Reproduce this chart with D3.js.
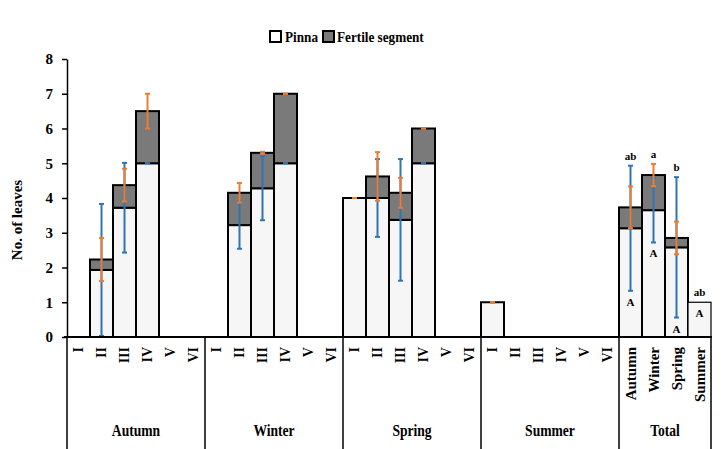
<!DOCTYPE html>
<html>
<head>
<meta charset="utf-8">
<script src="https://cdn.jsdelivr.net/npm/d3@7"></script>
<style>
  html, body { margin: 0; padding: 0; background: #fff; }
  svg { display: block; }
  text { font-family: "Liberation Serif", "Times New Roman", serif; font-weight: bold; fill: #000; }
</style>
</head>
<body>
<div id="chart"></div>
<script>
// ---------------- DATA ----------------
const groups = ["Autumn", "Winter", "Spring", "Summer", "Total"];
const seasonStages = ["I", "II", "III", "IV", "V", "VI"];
const totalStages = ["Autumn", "Winter", "Spring", "Summer"];

// 28 categories: 4 seasons x 6 stages + 4 totals
const pinna   = [0, 1.93, 3.72, 5.0, 0, 0,
                 0, 3.22, 4.28, 5.0, 0, 0,
                 4.0, 4.0, 3.37, 5.0, 0, 0,
                 1.0, 0, 0, 0, 0, 0,
                 3.13, 3.65, 2.58, 1.0];
const fertile = [0, 0.30, 0.65, 1.5, 0, 0,
                 0, 0.93, 1.02, 2.0, 0, 0,
                 0, 0.62, 0.78, 1.0, 0, 0,
                 0, 0, 0, 0, 0, 0,
                 0.60, 1.01, 0.27, 0];
const pinnaSD = [null, 1.9, 1.29, 0, null, null,
                 null, 0.68, 0.92, 0, null, null,
                 0, 1.12, 1.75, 0, null, null,
                 0, null, null, null, null, null,
                 1.8, 0.93, 2.02, null];
const totalSD = [null, 0.62, 0.47, 0.5, null, null,
                 null, 0.28, 0.03, 0, null, null,
                 0, 0.70, 0.43, 0, null, null,
                 0, null, null, null, null, null,
                 0.60, 0.32, 0.47, null];
const totalLower = ["ab", "a", "b", "ab"];
const totalUpper = ["A", "A", "A", "A"];
const yTicks = [0, 1, 2, 3, 4, 5, 6, 7, 8];
const legendLabels = ["Pinna", "Fertile segment"];

// ---------------- BUILD ----------------
const W = 725, H = 449;
const cats = [];
groups.forEach(g => {
  const st = g === "Total" ? totalStages : seasonStages;
  st.forEach(s => cats.push({ group: g, stage: s, key: g + "|" + s }));
});
cats.forEach((c, i) => {
  c.pinna = pinna[i]; c.fertile = fertile[i];
  c.total = pinna[i] + fertile[i];
  c.pSD = pinnaSD[i]; c.tSD = totalSD[i];
});

const svg = d3.select("#chart").append("svg").attr("width", W).attr("height", H);

const x = d3.scaleBand().domain(cats.map(c => c.key)).range([67, 711]).padding(0);
const y = d3.scaleLinear().domain([0, 8]).range([337, 59]);

const PINNA_FILL = "#f6f6f6", FERT_FILL = "#7a7a7a";
const BLUE = "#2e75b6", ORANGE = "#ed7d31";

// Y axis
const yAxis = d3.axisLeft(y).tickValues(yTicks).tickFormat(d3.format("d")).tickSize(5).tickSizeOuter(0).tickPadding(9);
const gy = svg.append("g").attr("transform", "translate(67,0)").call(yAxis);
gy.select(".domain").attr("stroke", "#000").attr("stroke-width", 1.5);
gy.selectAll(".tick line").attr("stroke", "#000").attr("stroke-width", 1.5);
gy.selectAll(".tick text").style("font-size", "15px").style("font-family", "'Liberation Serif', serif").style("font-weight", "bold");

svg.append("text")
  .attr("transform", `translate(22,${(y(0) + y(8)) / 2 + 22}) rotate(-90)`)
  .attr("text-anchor", "middle")
  .style("font-size", "15px")
  .text("No. of leaves");

// Bars
const bars = svg.append("g");
const barData = cats.filter(c => c.pinna > 0);
bars.selectAll("rect.p").data(barData).join("rect")
  .attr("class", "p")
  .attr("x", d => x(d.key)).attr("width", x.bandwidth())
  .attr("y", d => y(d.pinna)).attr("height", d => y(0) - y(d.pinna))
  .attr("fill", PINNA_FILL).attr("stroke", "#000")
  .attr("stroke-width", d => (d.group === "Total" && d.stage === "Summer") ? 1.2 : 2);
bars.selectAll("rect.f").data(cats.filter(c => c.fertile > 0)).join("rect")
  .attr("class", "f")
  .attr("x", d => x(d.key)).attr("width", x.bandwidth())
  .attr("y", d => y(d.total)).attr("height", d => y(d.pinna) - y(d.total))
  .attr("fill", FERT_FILL).attr("stroke", "#000").attr("stroke-width", 2);

// Error bars
function errBars(data, center, sd, color) {
  const g = svg.append("g").attr("stroke", color).attr("stroke-width", 2);
  const cx = d => x(d.key) + x.bandwidth() / 2;
  data.forEach(d => {
    const c = center(d), s = sd(d);
    const lo = Math.max(0, c - s), hi = c + s;
    g.append("line").attr("x1", cx(d)).attr("x2", cx(d)).attr("y1", y(hi)).attr("y2", y(lo));
    g.append("line").attr("x1", cx(d) - 2.5).attr("x2", cx(d) + 2.5).attr("y1", y(hi)).attr("y2", y(hi));
    g.append("line").attr("x1", cx(d) - 2.5).attr("x2", cx(d) + 2.5).attr("y1", y(lo)).attr("y2", y(lo));
  });
}
errBars(cats.filter(c => c.pSD !== null), d => d.pinna, d => d.pSD, BLUE);
errBars(cats.filter(c => c.tSD !== null), d => d.total, d => d.tSD, ORANGE);

// Significance letters on Total bars
const totals = cats.filter(c => c.group === "Total");
totals.forEach((d, i) => {
  const cx = x(d.key) + x.bandwidth() / 2;
  const top = Math.max(d.total, d.pSD !== null ? d.pinna + d.pSD : 0, d.tSD !== null ? d.total + d.tSD : 0);
  const bottom = d.pSD !== null ? d.pinna - d.pSD : d.pinna;
  svg.append("text").attr("x", cx).attr("y", y(top) - 6).attr("text-anchor", "middle")
    .style("font-size", "11px").text(totalLower[i]);
  svg.append("text").attr("x", cx).attr("y", y(bottom) + 15).attr("text-anchor", "middle")
    .style("font-size", "11px").text(totalUpper[i]);
});

// X axis table
const axisG = svg.append("g");
axisG.append("line").attr("x1", 64).attr("x2", 712).attr("y1", y(0)).attr("y2", y(0))
  .attr("stroke", "#000").attr("stroke-width", 2);
const bounds = [];
groups.forEach(g => {
  const ks = cats.filter(c => c.group === g).map(c => c.key);
  const x0 = x(ks[0]), x1 = x(ks[ks.length - 1]) + x.bandwidth();
  bounds.push({ g, x0, x1 });
});
const sepXs = [bounds[0].x0].concat(bounds.map(b => b.x1));
axisG.selectAll("line.sep").data(sepXs).join("line")
  .attr("class", "sep")
  .attr("x1", d => d).attr("x2", d => d).attr("y1", y(0)).attr("y2", H)
  .attr("stroke", "#000").attr("stroke-width", 1.5);

// stage labels (rotated)
axisG.selectAll("text.stage").data(cats).join("text")
  .attr("class", "stage")
  .attr("transform", d => `translate(${x(d.key) + x.bandwidth() / 2},347) rotate(-90)`)
  .attr("text-anchor", "end")
  .attr("dy", "0.35em")
  .style("font-size", d => d.group === "Total" ? "15px" : "14px")
  .text(d => d.stage);

// group labels
axisG.selectAll("text.grp").data(bounds).join("text")
  .attr("class", "grp")
  .attr("transform", d => `translate(${(d.x0 + d.x1) / 2},436) scale(0.85,1)`)
  .attr("text-anchor", "middle")
  .style("font-size", "16px")
  .text(d => d.g);

// Legend
const leg = svg.append("g");
const legItems = [
  { label: legendLabels[0], fill: "#ffffff", bx: 270, tx: 285 },
  { label: legendLabels[1], fill: FERT_FILL, bx: 323, tx: 337 }
];
legItems.forEach(it => {
  leg.append("rect").attr("x", it.bx).attr("y", 31).attr("width", 11).attr("height", 11)
    .attr("fill", it.fill).attr("stroke", "#000").attr("stroke-width", 2);
  leg.append("text").attr("transform", `translate(${it.tx},42) scale(0.88,1)`)
    .style("font-size", "15px").text(it.label);
});
</script>
</body>
</html>
